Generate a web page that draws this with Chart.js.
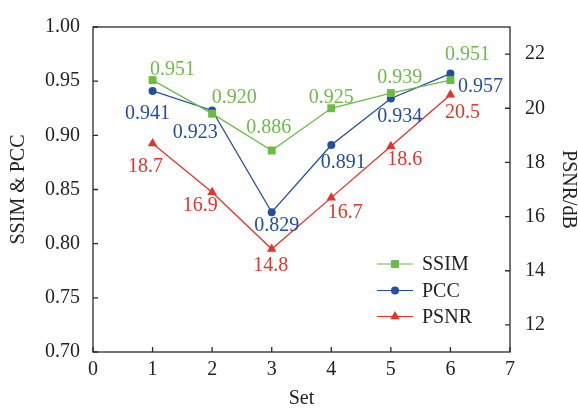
<!DOCTYPE html>
<html>
<head>
<meta charset="utf-8">
<script src="https://cdn.jsdelivr.net/npm/chart.js@4.4.1/dist/chart.umd.min.js"></script>
<style>
  html, body { margin: 0; padding: 0; background: #fff; }
  #wrap { width: 578px; height: 409px; position: relative; }
</style>
</head>
<body>
<div id="wrap"><canvas id="c" width="578" height="409"></canvas></div>
<script>
// ---- data ----
const sets = [1, 2, 3, 4, 5, 6];
const ssim = [0.951, 0.920, 0.886, 0.925, 0.939, 0.951];
const pcc  = [0.941, 0.923, 0.829, 0.891, 0.934, 0.957];
const psnr = [18.7, 16.9, 14.8, 16.7, 18.6, 20.5];
const ssimLabels = ['0.951', '0.920', '0.886', '0.925', '0.939', '0.951'];
const pccLabels  = ['0.941', '0.923', '0.829', '0.891', '0.934', '0.957'];
const psnrLabels = ['18.7', '16.9', '14.8', '16.7', '18.6', '20.5'];
const seriesNames = ['SSIM', 'PCC', 'PSNR'];

// ---- styles ----
const GREEN = '#6cbb47', BLUE = '#224f9f', RED = '#e5332a';
const FONT = '"Liberation Serif", "Times New Roman", serif';
const AXIS = '#2b2b2b';
// label offsets (dx, dy) relative to each point, per series
const labelOffsets = [
  [[20,-10],[22,-16],[-3,-23],[0,-11],[9,-15],[17,-25]],
  [[-5,23],[-17,22],[5,13],[12,18],[9,18],[30,13]],
  [[-7,23],[-12,14],[-1,17],[14,15],[14,14],[12,18]]
];

const toPts = (arr) => sets.map((s, i) => ({ x: s, y: arr[i] }));

const labelPlugin = {
  id: 'pointLabels',
  afterDatasetsDraw(chart) {
    const ctx = chart.ctx;
    const lbls = [ssimLabels, pccLabels, psnrLabels];
    ctx.save();
    ctx.font = '20px ' + FONT;
    ctx.textAlign = 'center';
    ctx.textBaseline = 'middle';
    chart.data.datasets.forEach((ds, di) => {
      const meta = chart.getDatasetMeta(di);
      ctx.fillStyle = ds.borderColor;
      meta.data.forEach((pt, i) => {
        const [dx, dy] = labelOffsets[di][i];
        ctx.fillText(lbls[di][i], pt.x + dx, pt.y + dy);
      });
    });
    ctx.restore();
  }
};

const framePlugin = {
  id: 'frame',
  afterDraw(chart) {
    const ctx = chart.ctx;
    const a = chart.chartArea;
    ctx.save();
    ctx.strokeStyle = AXIS;
    ctx.lineWidth = 1.3;
    ctx.strokeRect(a.left, a.top, a.right - a.left, a.bottom - a.top);
    const tl = 5;
    ctx.beginPath();
    const sx = chart.scales.x;
    sx.ticks.forEach(t => {
      const p = sx.getPixelForValue(t.value);
      ctx.moveTo(p, a.bottom); ctx.lineTo(p, a.bottom - tl);
    });
    const sy = chart.scales.y;
    sy.ticks.forEach(t => {
      const p = sy.getPixelForValue(t.value);
      ctx.moveTo(a.left, p); ctx.lineTo(a.left + tl, p);
    });
    const sy1 = chart.scales.y1;
    sy1.ticks.forEach(t => {
      const p = sy1.getPixelForValue(t.value);
      ctx.moveTo(a.right, p); ctx.lineTo(a.right - tl, p);
    });
    ctx.stroke();

    // legend
    const lx0 = 377, lx1 = 413, mx = 395, tx = 422;
    const ly = [264, 290.5, 316.5];
    ctx.font = '20px ' + FONT;
    ctx.textAlign = 'left';
    ctx.textBaseline = 'middle';
    chart.data.datasets.forEach((ds, i) => {
      ctx.strokeStyle = ds.borderColor;
      ctx.lineWidth = 1.2;
      ctx.beginPath();
      ctx.moveTo(lx0, ly[i]); ctx.lineTo(lx1, ly[i]);
      ctx.stroke();
      ctx.fillStyle = ds.backgroundColor;
      Chart.helpers.drawPoint(ctx, { pointStyle: ds.pointStyle, radius: ds.pointRadius, borderWidth: 0, rotation: 0 }, mx, ly[i]);
      ctx.fillStyle = '#222';
      ctx.fillText(seriesNames[i], tx, ly[i] + 1);
    });
    ctx.restore();
  }
};

new Chart(document.getElementById('c'), {
  type: 'line',
  data: {
    datasets: [
      { label: seriesNames[0], data: toPts(ssim), yAxisID: 'y', borderColor: GREEN, backgroundColor: GREEN,
        pointStyle: 'rect', pointRadius: 5.6, pointBorderWidth: 0, borderWidth: 1.3 },
      { label: seriesNames[1], data: toPts(pcc), yAxisID: 'y', borderColor: BLUE, backgroundColor: BLUE,
        pointStyle: 'circle', pointRadius: 4, pointBorderWidth: 0, borderWidth: 1.3 },
      { label: seriesNames[2], data: toPts(psnr), yAxisID: 'y1', borderColor: RED, backgroundColor: RED,
        pointStyle: 'triangle', pointRadius: 5.5, pointBorderWidth: 0, borderWidth: 1.3 }
    ]
  },
  options: {
    responsive: false,
    animation: false,
    layout: { padding: { top: 17, left: 0, right: 0, bottom: 0 } },
    plugins: { legend: { display: false }, tooltip: { enabled: false } },
    scales: {
      x: {
        type: 'linear', min: 0, max: 7,
        ticks: { stepSize: 1, color: '#222', font: { family: FONT, size: 20 }, padding: 6 },
        grid: { display: false, drawTicks: false },
        border: { display: false },
        title: { display: true, text: 'Set', color: '#222', font: { family: FONT, size: 20, lineHeight: 1 }, padding: 0 },
        afterFit(s) { s.height = 57; }
      },
      y: {
        position: 'left', min: 0.70, max: 1.00,
        ticks: { stepSize: 0.05, color: '#222', font: { family: FONT, size: 20 }, padding: 13,
                 callback: v => v.toFixed(2) },
        grid: { display: false, drawTicks: false },
        border: { display: false },
        title: { display: true, text: 'SSIM & PCC', color: '#222', font: { family: FONT, size: 20, lineHeight: 1 }, padding: 9 },
        afterFit(s) { s.width = 93; }
      },
      y1: {
        position: 'right', min: 11, max: 23,
        afterBuildTicks(s) { s.ticks = [12, 14, 16, 18, 20, 22].map(v => ({ value: v })); },
        ticks: { color: '#222', font: { family: FONT, size: 20 }, padding: 15 },
        grid: { display: false, drawTicks: false },
        border: { display: false },
        title: { display: true, text: 'PSNR/dB', color: '#222', font: { family: FONT, size: 20, lineHeight: 1 }, padding: 0 },
        afterFit(s) { s.width = 68; }
      }
    }
  },
  plugins: [labelPlugin, framePlugin]
});
</script>
</body>
</html>
